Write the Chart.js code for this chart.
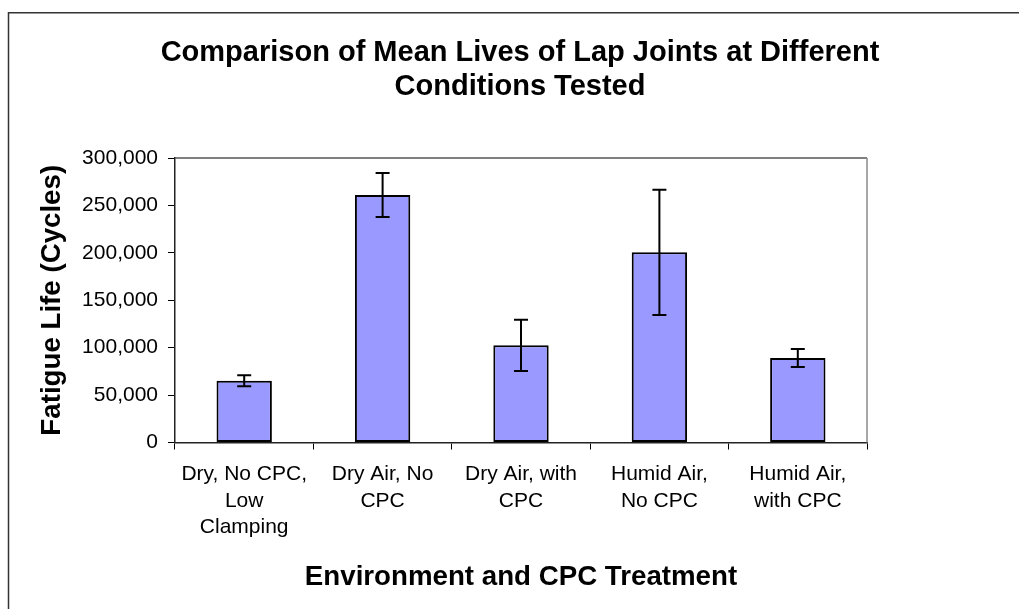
<!DOCTYPE html>
<html>
<head>
<meta charset="utf-8">
<script src="https://cdn.jsdelivr.net/npm/chart.js@4.4.1/dist/chart.umd.min.js"></script>
<style>
  html, body { margin: 0; padding: 0; background: #ffffff; }
  #wrap { width: 1019px; height: 609px; position: relative; }
  canvas { display: block; }
</style>
</head>
<body>
<div id="wrap"><canvas id="chart" width="1019" height="609"></canvas></div>
<script>
// Test conditions (multi-line category labels)
const categories = [
  ["Dry, No CPC,", "Low", "Clamping"],
  ["Dry Air, No", "CPC"],
  ["Dry Air, with", "CPC"],
  ["Humid Air,", "No CPC"],
  ["Humid Air,", "with CPC"]
];

// Mean fatigue life (cycles) for each condition
const meanLife = [65000, 261000, 102500, 200500, 89000];

// Half-width of the error bar (cycles) for each condition
const lifeError = [5800, 23200, 27000, 66000, 9500];

// Value axis ticks
const yTickValues = [0, 50000, 100000, 150000, 200000, 250000, 300000];

// Chart title lines
const titleLines = ['Comparison of Mean Lives of Lap Joints at Different', 'Conditions Tested'];

const FONT = "'Liberation Sans', Arial, Helvetica, sans-serif";

// Outer frame of the chart object, plot-area border and the chart title
const framePlugin = {
  id: 'frame',
  beforeDraw(chart) {
    const { ctx, width, height } = chart;
    ctx.save();
    ctx.fillStyle = '#ffffff';
    ctx.fillRect(0, 0, width, height);
    ctx.strokeStyle = '#333333';
    ctx.lineWidth = 1.5;
    ctx.beginPath();
    ctx.moveTo(8.5, height);
    ctx.lineTo(8.5, 12.75);
    ctx.lineTo(width, 12.75);
    ctx.stroke();

    // Title, centred over the whole chart object
    ctx.fillStyle = '#000000';
    ctx.font = 'bold 29px ' + FONT;
    ctx.textAlign = 'center';
    ctx.textBaseline = 'middle';
    titleLines.forEach((line, i) => ctx.fillText(line, 520, 53 + i * 34));
    ctx.restore();
  },
  beforeDatasetsDraw(chart) {
    const { ctx, chartArea: a } = chart;
    ctx.save();
    ctx.lineWidth = 1.5;
    ctx.strokeStyle = '#555555';
    ctx.beginPath();
    ctx.moveTo(a.left, a.top);
    ctx.lineTo(a.right, a.top);
    ctx.stroke();
    ctx.strokeStyle = '#8a8a8a';
    ctx.beginPath();
    ctx.moveTo(a.right, a.top);
    ctx.lineTo(a.right, a.bottom);
    ctx.stroke();
    ctx.restore();
  }
};

// Error bars drawn through the value scale
const errorBarPlugin = {
  id: 'errorBars',
  afterDatasetsDraw(chart) {
    const { ctx } = chart;
    const yScale = chart.scales.y;
    const meta = chart.getDatasetMeta(0);
    ctx.save();
    ctx.strokeStyle = '#000000';
    ctx.lineWidth = 2;
    const cap = 7;
    meta.data.forEach((bar, i) => {
      const x = bar.x;
      const yTop = yScale.getPixelForValue(meanLife[i] + lifeError[i]);
      const yBot = yScale.getPixelForValue(meanLife[i] - lifeError[i]);
      ctx.beginPath();
      ctx.moveTo(x, yTop);
      ctx.lineTo(x, yBot);
      ctx.moveTo(x - cap, yTop);
      ctx.lineTo(x + cap, yTop);
      ctx.moveTo(x - cap, yBot);
      ctx.lineTo(x + cap, yBot);
      ctx.stroke();
    });
    ctx.restore();
  }
};

new Chart(document.getElementById('chart'), {
  type: 'bar',
  data: {
    labels: categories,
    datasets: [{
      data: meanLife,
      backgroundColor: '#9999ff',
      borderColor: '#000000',
      borderWidth: 2,
      borderSkipped: false,
      barPercentage: 0.4,
      categoryPercentage: 1.0
    }]
  },
  options: {
    responsive: false,
    animation: false,
    devicePixelRatio: 1,
    layout: { padding: { left: 0, top: 158, right: 152, bottom: 0 } },
    plugins: {
      legend: { display: false },
      tooltip: { enabled: false },
      title: { display: false }
    },
    scales: {
      x: {
        afterFit(scale) { scale.height = 166.5; },
        grid: {
          offset: true,
          drawOnChartArea: false,
          drawTicks: true,
          tickLength: 7,
          tickColor: '#000000',
          tickWidth: 1
        },
        border: { display: true, color: '#222222', width: 1.5 },
        ticks: {
          color: '#000000',
          padding: 11,
          maxRotation: 0,
          autoSkip: false,
          font: { family: FONT, size: 21, lineHeight: 1.28 }
        },
        title: {
          display: true,
          text: 'Environment and CPC Treatment',
          color: '#000000',
          font: { family: FONT, size: 27.7, weight: 'bold', lineHeight: 1.2 },
          padding: { top: 0, bottom: 15 }
        }
      },
      y: {
        min: 0,
        max: 300000,
        afterFit(scale) { scale.width = 175; },
        afterBuildTicks(scale) { scale.ticks = yTickValues.map(v => ({ value: v })); },
        grid: {
          drawOnChartArea: false,
          drawTicks: true,
          tickLength: 7,
          tickColor: '#000000',
          tickWidth: 1
        },
        border: { display: true, color: '#222222', width: 1.5 },
        ticks: {
          color: '#000000',
          padding: 10,
          font: { family: FONT, size: 21 },
          callback: (v) => Number(v).toLocaleString('en-US')
        },
        title: {
          display: true,
          text: 'Fatigue Life (Cycles)',
          color: '#000000',
          font: { family: FONT, size: 27.7, weight: 'bold', lineHeight: 1.2 },
          padding: { top: 36, bottom: 0 }
        }
      }
    }
  },
  plugins: [framePlugin, errorBarPlugin]
});
</script>
</body>
</html>
